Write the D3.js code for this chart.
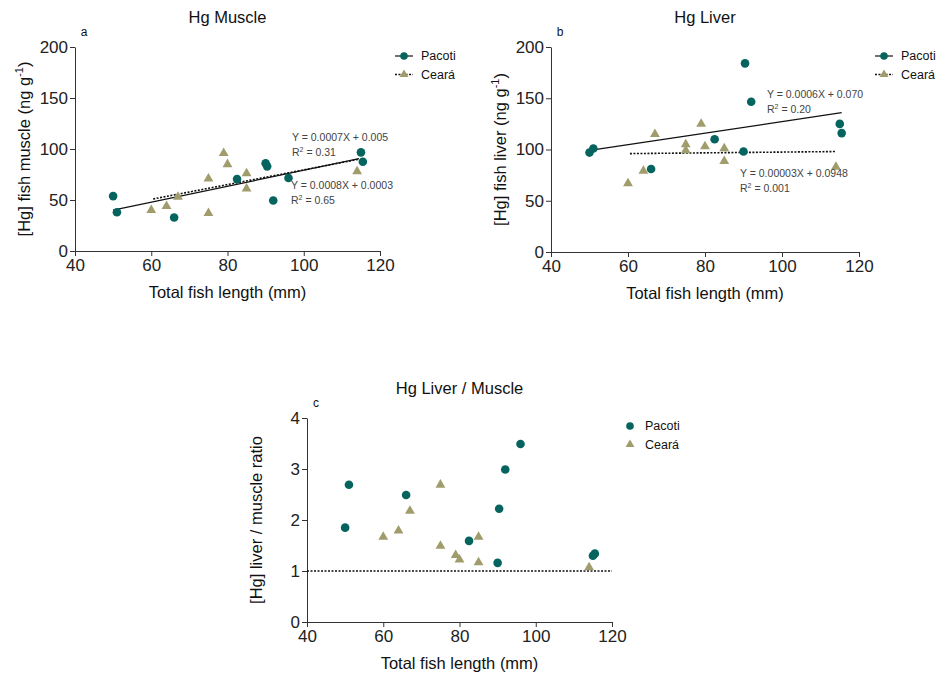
<!DOCTYPE html>
<html>
<head>
<meta charset="utf-8">
<script src="https://cdn.jsdelivr.net/npm/d3@7"></script>
<style>
  body { margin: 0; background: #fff; }
  svg { font-family: "Liberation Sans", Arial, sans-serif; }
  .axis path, .axis line { stroke: #333; }
  .axis text { font-size: 17px; fill: #222; }
</style>
</head>
<body>
<div id="chart"></div>
<script>
/***********************************************************************/
// data
const lengthTicks = [40, 60, 80, 100, 120];
const hgTicks = [0, 50, 100, 150, 200];
const ratioTicks = [0, 1, 2, 3, 4];

// Pacoti estuary
const pacotiLength = [50, 51, 66, 82.5, 90, 90.4, 92, 96, 115, 115.5];
const pacotiMuscle = [53.8, 38, 32.8, 70.5, 86, 83, 49.5, 71.5, 96.7, 87.5];
const pacotiLiverLength = [50, 51, 66, 82.5, 90, 90.4, 92, 115, 115.5];
const pacotiLiver = [97, 101, 81, 110, 98, 184, 146.6, 125, 116];
const pacotiRatio = [1.85, 2.69, 2.49, 1.59, 1.16, 2.22, 2.99, 3.49, 1.30, 1.34];

// Ceará estuary
const cearaLength = [60, 64, 67, 75, 75, 79, 80, 85, 85, 114];
const cearaMuscle = [40, 44, 53, 71, 37, 96, 85, 76, 61, 78];
const cearaLiver = [67, 79, 115, 105, 99, 125, 103, 88.6, 101, 83];
const cearaRatio = [1.67, 1.79, 2.18, 1.49, 2.69, 1.31, 1.22, 1.17, 1.67, 1.07];

// regression lines (end points)
const muscleFitPacoti = [[50, 40], [114.5, 90.5]];
const muscleFitCeara = [[60.5, 51], [114.5, 90]];
const liverFitPacoti = [[50.5, 99.3], [115.5, 136]];
const liverFitCeara = [[60.5, 96], [113.8, 98]];
const ratioRefLine = [[40, 1], [120, 1]];

const seriesNames = ['Pacoti', 'Ceará'];
const colPacoti = '#06645f';
const colCeara = '#a09c6c';

/***********************************************************************/
var svg = d3.select('#chart')
  .append('svg')
  .attr('width', 941)
  .attr('height', 674);

function zip(xs, ys) {
  return xs.map((x, i) => [x, ys[i]]);
}

//draw one panel
function drawPanel(p) {
  let g = svg.append('g');

  let x = d3.scaleLinear().domain([40, 120]).range([p.left, p.right]);
  let y = d3.scaleLinear().domain(p.yDomain).range([p.bottom, p.top]);

  g.append('g').attr('class', 'axis')
    .attr('transform', `translate(0, ${p.bottom})`)
    .call(d3.axisBottom(x).tickValues(lengthTicks).tickSize(5).tickSizeOuter(0).tickPadding(3));
  g.append('g').attr('class', 'axis')
    .attr('transform', `translate(${p.left}, 0)`)
    .call(d3.axisLeft(y).tickValues(p.yTicks).tickFormat(d3.format('d'))
      .tickSize(5).tickSizeOuter(0).tickPadding(2));

  let line = d3.line().x(d => x(d[0])).y(d => y(d[1]));
  (p.fits || []).forEach(f => {
    g.append('path')
      .attr('d', line(f.pts))
      .attr('fill', 'none')
      .attr('stroke', '#111')
      .attr('stroke-width', f.dash ? 1.6 : 1.2)
      .attr('stroke-dasharray', f.dash ? '2,1.5' : null);
  });

  //points
  g.selectAll('circle.pac')
    .data(p.pacoti)
    .enter()
    .append('circle')
    .attr('cx', d => x(d[0]))
    .attr('cy', d => y(d[1]))
    .attr('r', 4.3)
    .attr('fill', colPacoti);

  let tri = d3.symbol().type(d3.symbolTriangle).size(42);
  g.selectAll('path.cea')
    .data(p.ceara)
    .enter()
    .append('path')
    .attr('d', tri)
    .attr('transform', d => `translate(${x(d[0])}, ${y(d[1])})`)
    .attr('fill', colCeara);

  //titles
  let cx = (p.left + p.right) / 2;
  g.append('text').attr('x', cx).attr('y', p.top - 24)
    .attr('text-anchor', 'middle').attr('font-size', 16.5).attr('fill', '#111')
    .text(p.title);
  g.append('text').attr('x', p.left + 9).attr('y', p.top - 11)
    .attr('text-anchor', 'middle').attr('font-size', 12).attr('fill', '#111')
    .text(p.letter);
  g.append('text').attr('x', cx).attr('y', p.bottom + 47)
    .attr('text-anchor', 'middle').attr('font-size', 16.5).attr('fill', '#111')
    .text('Total fish length (mm)');

  let yl = g.append('text')
    .attr('transform', `translate(${p.left - 45}, ${(p.top + p.bottom) / 2}) rotate(-90)`)
    .attr('text-anchor', 'middle').attr('font-size', 16.5).attr('fill', '#111');
  yl.append('tspan').text(p.yLabel);
  if (p.unit) {
    yl.append('tspan').text(' (ng g');
    yl.append('tspan').attr('font-size', 11).attr('dy', -7).text('-1');
    yl.append('tspan').attr('dy', 7).text(')');
  }

  //equations
  (p.eqs || []).forEach(e => {
    let t = g.append('text').attr('x', e.x).attr('y', e.y)
      .attr('font-size', 10.5).attr('fill', '#444');
    t.text(e.eq);
    let r = g.append('text').attr('x', e.x).attr('y', e.y + 15)
      .attr('font-size', 10.5).attr('fill', '#444');
    r.append('tspan').text('R');
    r.append('tspan').attr('font-size', 7).attr('dy', -4).text('2');
    r.append('tspan').attr('dy', 4).text(' = ' + e.r2);
  });

  //legend
  let lg = g.append('g').attr('transform', `translate(${p.legX}, ${p.legY})`);
  seriesNames.forEach((name, i) => {
    let ly = i * 18.5;
    if (p.legLines) {
      lg.append('line').attr('x1', -9).attr('x2', 9).attr('y1', ly).attr('y2', ly)
        .attr('stroke', '#111')
        .attr('stroke-width', i ? 1.4 : 1.2)
        .attr('stroke-dasharray', i ? '2,1.5' : null);
    }
    if (i === 0) {
      lg.append('circle').attr('cx', 0).attr('cy', ly).attr('r', 3.8).attr('fill', colPacoti);
    } else {
      lg.append('path').attr('d', d3.symbol().type(d3.symbolTriangle).size(34))
        .attr('transform', `translate(0, ${ly})`).attr('fill', colCeara);
    }
    lg.append('text').attr('x', p.legLines ? 17 : 15).attr('y', ly).attr('dy', '0.35em')
      .attr('font-size', 12.5).attr('fill', '#111').text(name);
  });
}

/***********************************************************************/
drawPanel({
  left: 75, right: 380, top: 47, bottom: 251,
  yDomain: [0, 200], yTicks: hgTicks,
  title: 'Hg Muscle', letter: 'a', yLabel: '[Hg] fish muscle', unit: true,
  pacoti: zip(pacotiLength, pacotiMuscle),
  ceara: zip(cearaLength, cearaMuscle),
  fits: [{ pts: muscleFitPacoti, dash: false }, { pts: muscleFitCeara, dash: true }],
  eqs: [
    { x: 292, y: 141, eq: 'Y = 0.0007X + 0.005', r2: '0.31' },
    { x: 291, y: 189, eq: 'Y = 0.0008X + 0.0003', r2: '0.65' }
  ],
  legX: 404, legY: 56, legLines: true
});

drawPanel({
  left: 551, right: 859, top: 47, bottom: 252,
  yDomain: [0, 200], yTicks: hgTicks,
  title: 'Hg Liver', letter: 'b', yLabel: '[Hg] fish liver', unit: true,
  pacoti: zip(pacotiLiverLength, pacotiLiver),
  ceara: zip(cearaLength, cearaLiver),
  fits: [{ pts: liverFitPacoti, dash: false }, { pts: liverFitCeara, dash: true }],
  eqs: [
    { x: 767, y: 98, eq: 'Y = 0.0006X + 0.070', r2: '0.20' },
    { x: 740, y: 177, eq: 'Y = 0.00003X + 0.0948', r2: '0.001' }
  ],
  legX: 884, legY: 56, legLines: true
});

drawPanel({
  left: 307, right: 612, top: 418, bottom: 622,
  yDomain: [0, 4], yTicks: ratioTicks,
  title: 'Hg Liver / Muscle', letter: 'c', yLabel: '[Hg] liver / muscle ratio', unit: false,
  pacoti: zip(pacotiLength, pacotiRatio),
  ceara: zip(cearaLength, cearaRatio),
  fits: [{ pts: ratioRefLine, dash: true }],
  eqs: [],
  legX: 630, legY: 426, legLines: false
});
</script>
</body>
</html>
